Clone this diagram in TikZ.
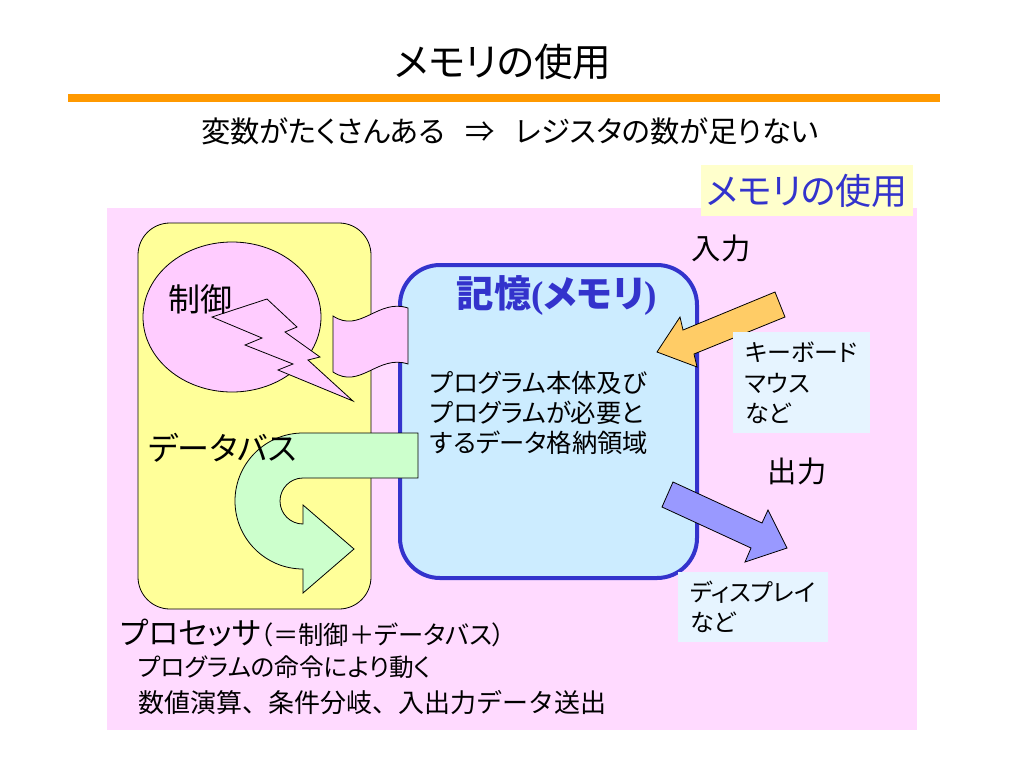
\documentclass[tikz,border=0pt]{standalone}
\usepackage{fontspec}
\setmainfont{Noto Sans CJK JP}[RawFeature=+palt]
\newfontfamily\parenfont{Liberation Serif}
\usetikzlibrary{positioning}
\definecolor{panelpink}{RGB}{255,218,255}
\definecolor{rulorange}{RGB}{255,153,0}
\definecolor{tagyellow}{RGB}{255,255,204}
\definecolor{cpuyellow}{RGB}{255,255,153}
\definecolor{ctrlpink}{RGB}{255,204,255}
\definecolor{memblue}{RGB}{204,236,255}
\definecolor{memline}{RGB}{51,51,204}
\definecolor{busgreen}{RGB}{204,255,204}
\definecolor{inorange}{RGB}{255,204,102}
\definecolor{outviolet}{RGB}{153,153,255}
\definecolor{notefill}{RGB}{230,244,255}

\begin{document}
\begin{tikzpicture}[x=0.75pt,y=-0.75pt,
    every node/.style={inner sep=0pt},
    shape line/.style={draw=black,line width=0.6pt},
    notetext/.style={anchor=west,align=left}]

    \useasboundingbox[fill=white] (0,0) rectangle (1024,768);

    \node[font=\fontsize{29}{29}\selectfont] (title) at (503,62) {メモリの使用};
    \draw[rulorange,line width=6pt] (68,98) -- (940,98);
    \node[font=\fontsize{22}{22}\selectfont] (why) at (510,131)
        {変数がたくさんある\hspace{0.7em}⇒\hspace{0.7em}レジスタの数が足りない};

    \fill[panelpink] (107,208) rectangle (917,730);
    \fill[tagyellow] (701,165) rectangle (913,216);
    \node[text=memline,font=\fontsize{27}{27}\selectfont] (tag) at (807,191) {メモリの使用};

    % processor
    \draw[shape line,fill=cpuyellow,rounded corners=24pt] (138,223) rectangle (371,609);
    \draw[shape line,fill=ctrlpink] (232,317) ellipse [x radius=89, y radius=75];
    \draw[shape line,fill=ctrlpink] (212,317) -- (267,299) -- (297,327) -- (285,332)
        -- (320,357) -- (308,360) -- (353,401) -- (278,370) -- (293,364)
        -- (245,345) -- (262,338) -- cycle;
    \node[font=\fontsize{24}{24}\selectfont] (ctrl) at (200,299) {制御};

    % memory
    \draw[memline,line width=3pt,fill=memblue,rounded corners=30pt] (400,265) rectangle (697,578);
    \node[text=memline,font=\fontsize{28}{28}\selectfont\bfseries] (memtitle) at (557,296)
        {記憶{\parenfont(}メモリ{\parenfont)}};
    \node[notetext,font=\fontsize{19}{22.5}\selectfont] (memtext) at (430,413)
        {プログラム本体及び\\プログラムが必要と\\するデータ格納領域};

    \draw[shape line,fill=ctrlpink] (333,316) .. controls (360,334) and (378,298) .. (408,308)
        -- (408,364) .. controls (378,354) and (360,390) .. (333,372) -- cycle;

    % data bus
    \draw[shape line,fill=busgreen] (418,433) -- (303,433)
        arc[start angle=270,end angle=90,radius=68] -- (303,593) -- (354,549)
        -- (303,505) -- (303,524) arc[start angle=90,end angle=270,radius=23]
        -- (418,478) -- cycle;
    \node[anchor=west,font=\fontsize{24}{24}\selectfont] (bus) at (148,448) {データバス};

    % input / output
    \draw[shape line,fill=inorange] (775,292) -- (785,317) -- (694,354) -- (697,367)
        -- (657,352) -- (680,317) -- (683,330) -- cycle;
    \node[font=\fontsize{22}{22}\selectfont] (in) at (721,248) {入力};
    \fill[notefill] (733,332) rectangle (870,433);
    \node[notetext,font=\fontsize{18}{23}\selectfont] (indev) at (745,383) {キーボード\\マウス\\など};

    \draw[shape line,fill=outviolet] (673,482) -- (762,523) -- (768,510) -- (787,548)
        -- (745,562) -- (751,548) -- (662,507) -- cycle;
    \node[font=\fontsize{22}{22}\selectfont] (out) at (797,471) {出力};
    \fill[notefill] (678,572) rectangle (828,642);
    \node[notetext,font=\fontsize{18}{22}\selectfont] (outdev) at (690,607) {ディスプレイ\\など};

    \node[anchor=west,font=\fontsize{23}{23}\selectfont] (cpu) at (120,633)
        {プロセッサ{\fontsize{19}{19}\selectfont（＝制御＋データバス）}};
    \node[anchor=west,font=\fontsize{18.5}{18.5}\selectfont] (cpu1) at (138,667) {プログラムの命令により動く};
    \node[anchor=west,font=\fontsize{19.5}{19.5}\selectfont\addfontfeature{RawFeature=-palt}] (cpu2) at (138,703)
        {数値演算、条件分岐、入出力データ送出};
\end{tikzpicture}
\end{document}
